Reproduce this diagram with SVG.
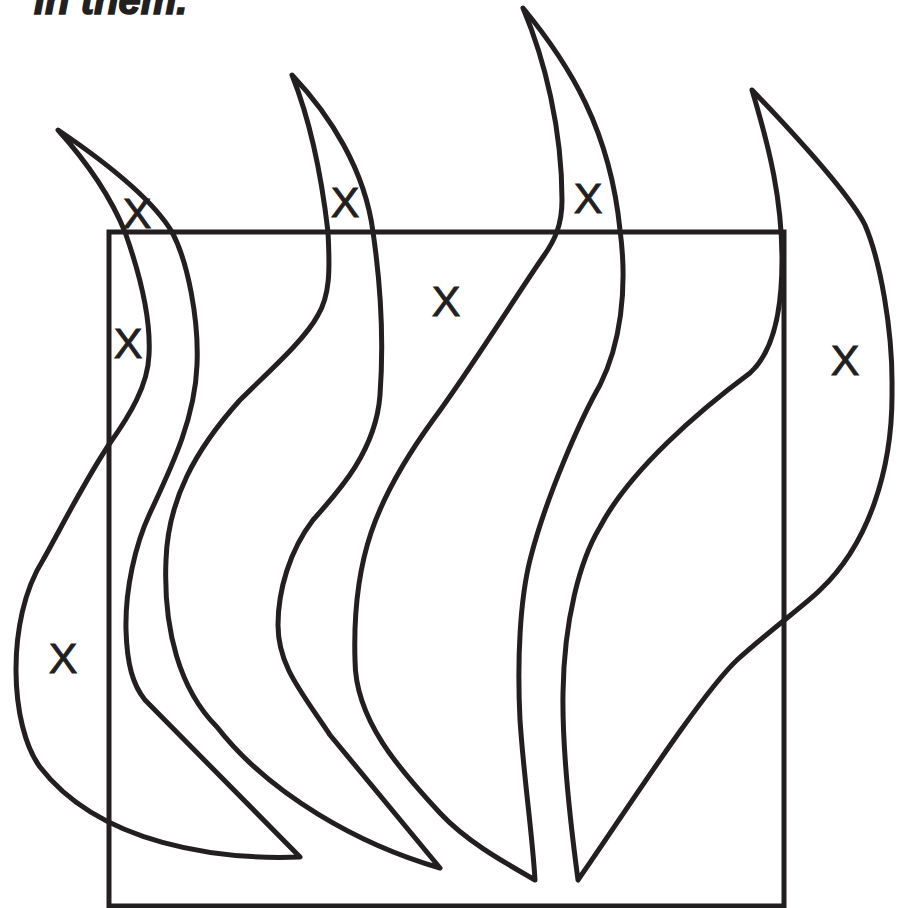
<svg xmlns="http://www.w3.org/2000/svg" width="903" height="908" viewBox="0 0 903 908">
<style>
.ln{fill:none;stroke:#231f20;stroke-width:5;stroke-linejoin:round}
.x{font-family:"Liberation Sans",Arial,sans-serif;font-size:43px;fill:#231f20;stroke:#231f20;stroke-width:0.9;text-anchor:middle}
.hd{font-family:"Liberation Sans",Arial,sans-serif;font-size:40px;font-weight:bold;font-style:italic;fill:#231f20;stroke:#231f20;stroke-width:1.5}
</style>
<rect width="903" height="908" fill="#fff"/>
<text class="hd" x="34" y="14">in them.</text>
<g id="frame"><rect class="ln" x="109" y="232" width="675" height="674" style="stroke-linejoin:miter"/></g>
<g id="flame1"><path class="ln" d="M58,130 C95,155 150,195 172,232 C188,262 199,320 197,365 C195,420 170,470 150,513 C135,545 125,590 126,630 C127,665 133,685 145,700 L300,857 C220,860 100,845 40,767 C10,727 5,620 43,560 C60,530 85,480 110,443 C130,415 148,385 149,355 C151,320 142,280 125,232 C110,195 85,160 58,130 Z"/></g>
<g id="flame2"><path class="ln" d="M292,75 C330,115 365,170 373,232 C380,280 384,340 380,395 C376,450 340,490 313,520 C290,550 278,590 278,625 C278,665 300,690 330,735 L440,868 C360,845 270,795 217,727 C180,690 163,630 166,560 C168,500 195,450 240,400 C265,375 305,340 318,315 C330,295 330,270 328,232 C322,180 310,120 292,75 Z"/></g>
<g id="flame3"><path class="ln" d="M523,8 C570,65 610,130 620,230 C628,290 620,345 600,385 C580,420 545,500 530,560 C520,600 517,660 520,720 C524,780 532,830 535,880 C500,860 465,840 440,813 C400,770 355,720 355,660 C352,560 375,500 433,420 C470,370 520,290 543,257 C555,240 562,225 562,200 C562,130 545,60 523,8 Z"/></g>
<g id="flame4"><path class="ln" d="M752,90 C800,140 850,195 865,225 C880,260 893,330 892,390 C893,470 868,545 820,590 C805,605 770,630 737,660 C700,695 620,820 578,880 C570,820 562,750 563,693 C564,620 580,560 600,527 C630,470 700,410 750,373 C770,355 782,320 782,260 C782,200 770,150 752,90 Z"/></g>
<g id="labels">
<text class="x" x="137" y="228">X</text>
<text class="x" x="128" y="358">X</text>
<text class="x" x="345" y="217">X</text>
<text class="x" x="588" y="213">X</text>
<text class="x" x="446" y="316">X</text>
<text class="x" x="845" y="375">X</text>
<text class="x" x="63" y="673">X</text>
</g>
</svg>
